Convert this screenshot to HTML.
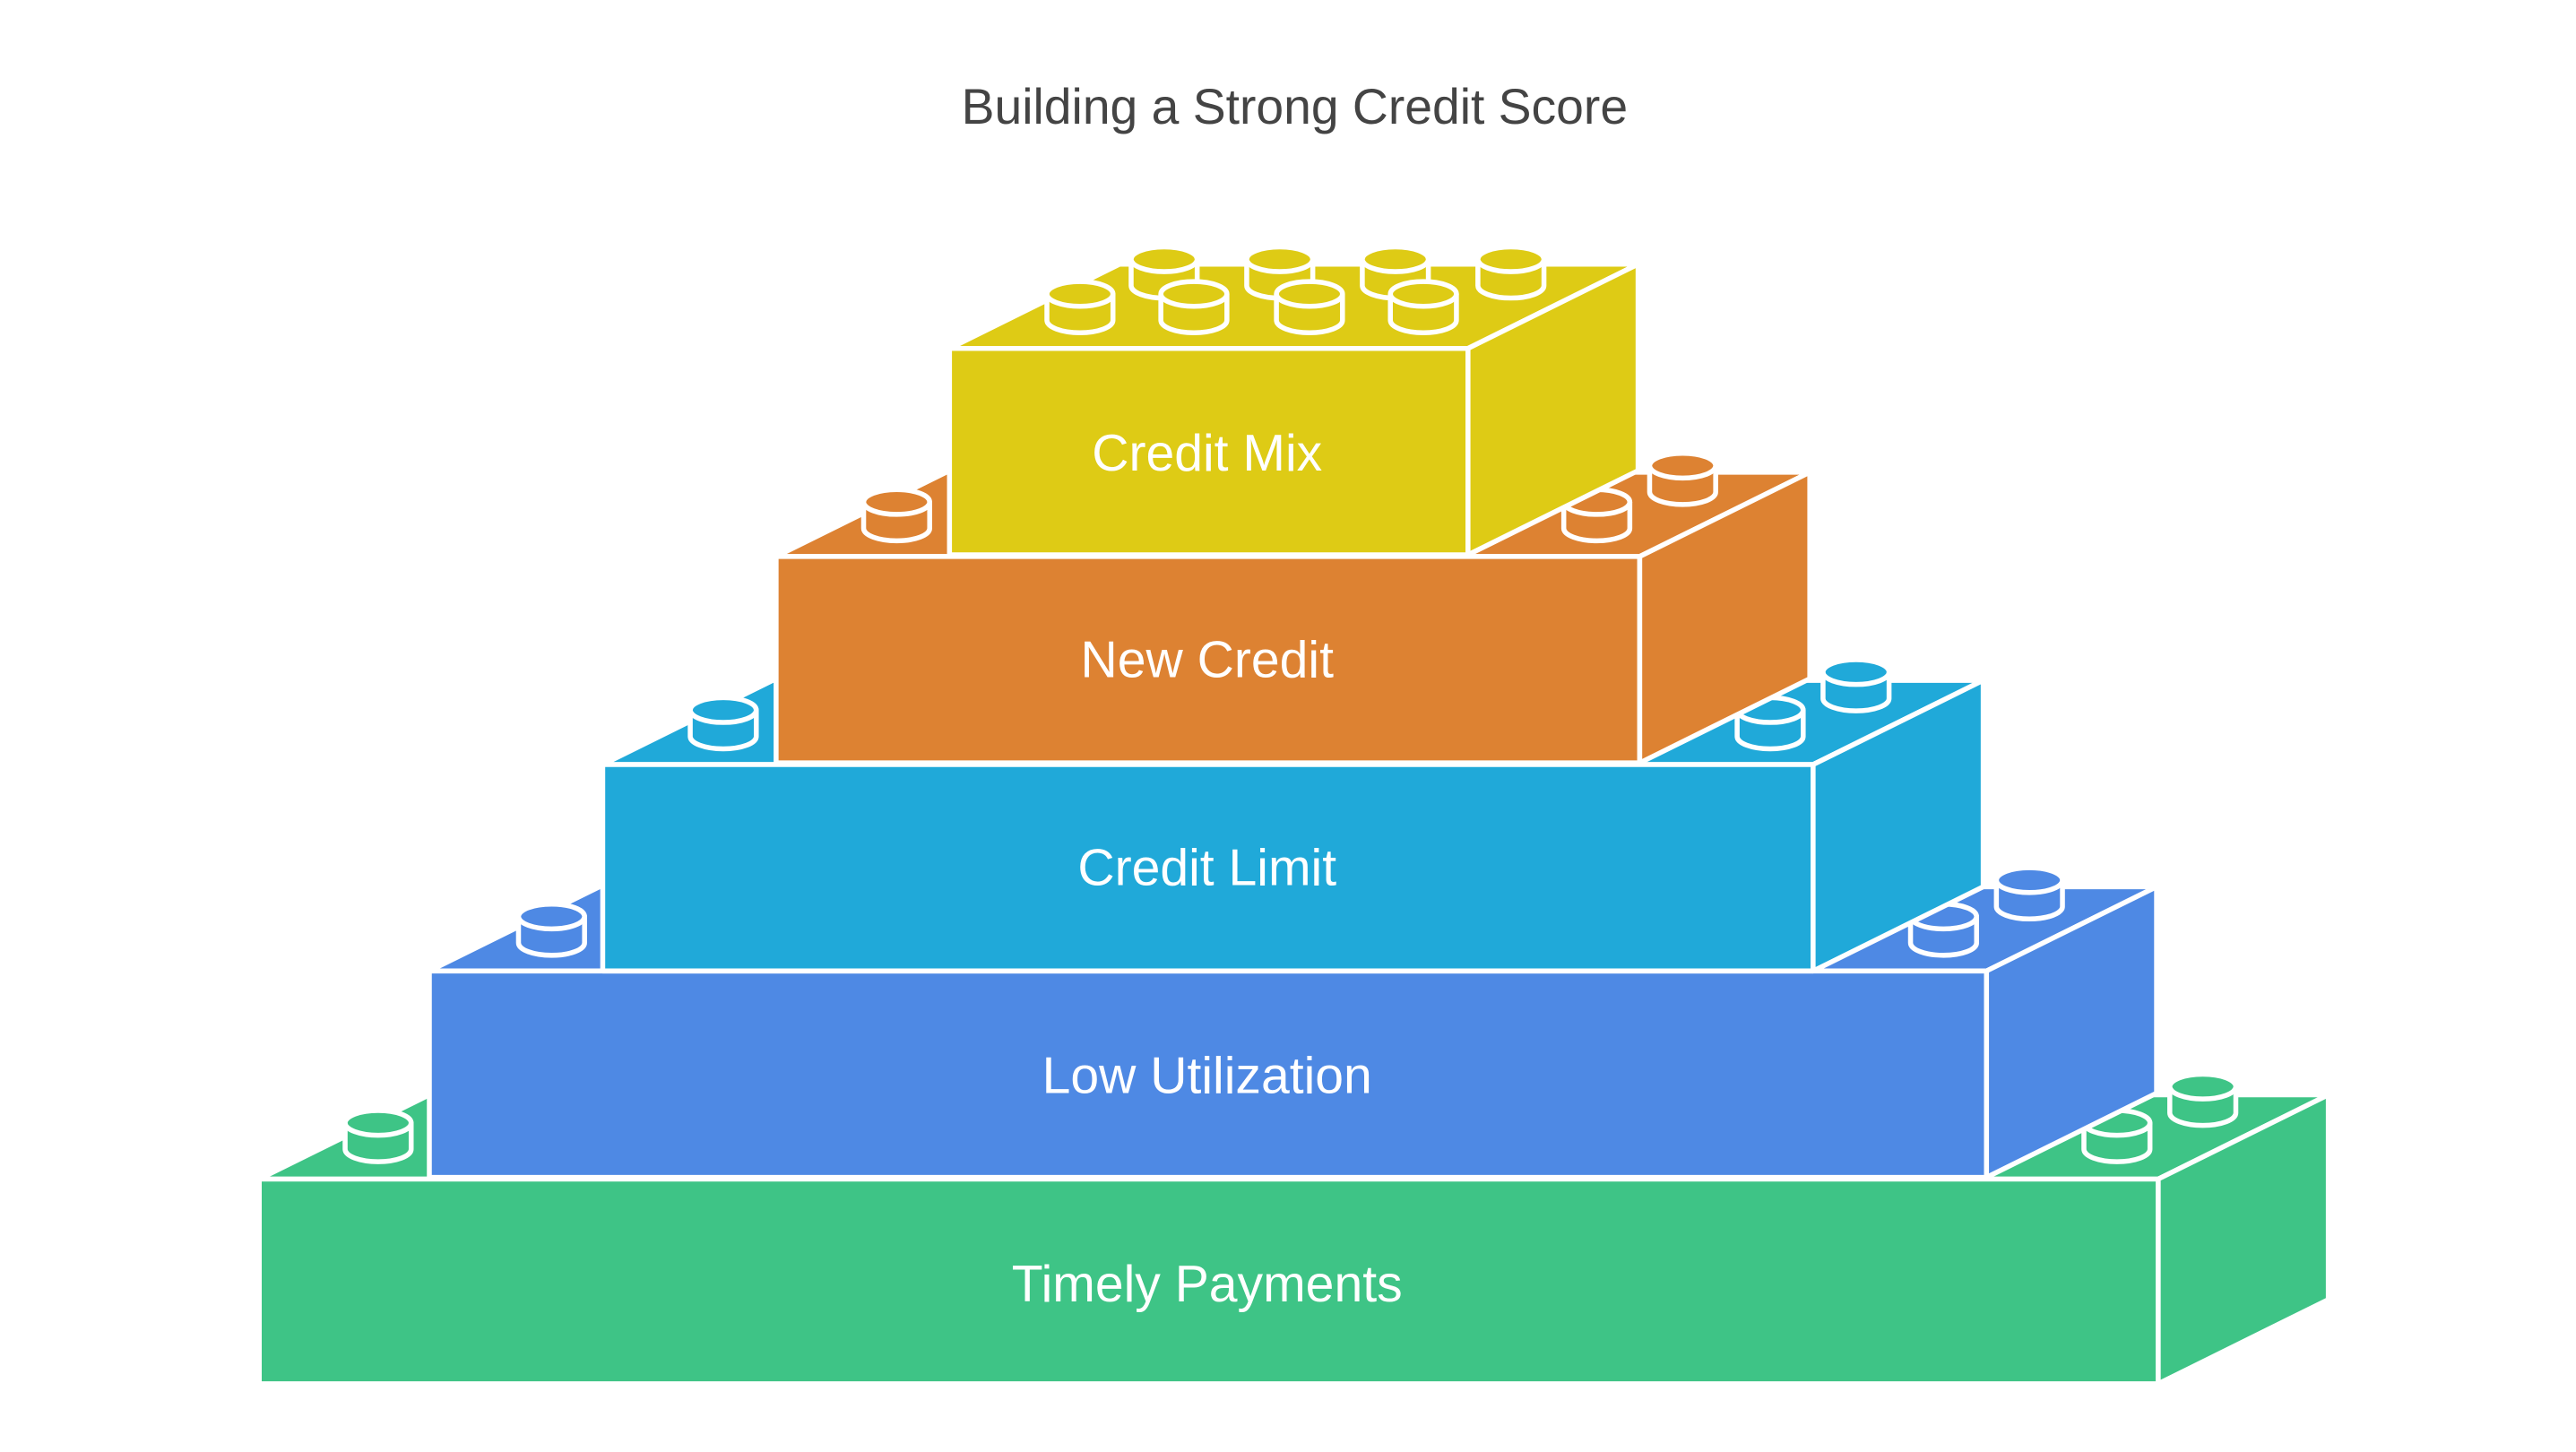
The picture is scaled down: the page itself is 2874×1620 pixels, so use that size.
<!DOCTYPE html>
<html><head><meta charset="utf-8"><style>
html,body{margin:0;padding:0;background:#fff;}
svg{display:block;}
text{font-family:"Liberation Sans",sans-serif;}
</style></head><body>
<svg width="2874" height="1620" viewBox="0 0 1560 879.3" preserveAspectRatio="none" xmlns="http://www.w3.org/2000/svg">
<defs>
<g id="cyl">
<path d="M-20,0 L-20,16 A20,7.5 0 0 0 20,16 L20,0 Z" stroke="#fff" stroke-width="3"/>
<ellipse cx="0" cy="0" rx="20" ry="7.5" stroke="#fff" stroke-width="3"/>
</g>
</defs>
<text x="784" y="75" text-anchor="middle" font-size="30" fill="#444">Building a Strong Credit Score</text>
<g stroke="#fff" stroke-width="3" stroke-linejoin="round">
<g fill="#3EC486">
<polygon points="157,714 260,663 1410,663 1307,714"/>
<use href="#cyl" x="229" y="680"/>
<use href="#cyl" x="1334" y="658"/>
<use href="#cyl" x="1282" y="680"/>
<rect x="157" y="714" width="1150" height="124"/>
<polygon points="1307,714 1410,663 1410,787 1307,838"/>
</g>
<g fill="#4E89E4">
<polygon points="260,588 363,537 1306,537 1203,588"/>
<use href="#cyl" x="334" y="555"/>
<use href="#cyl" x="1229" y="533"/>
<use href="#cyl" x="1177" y="555"/>
<rect x="260" y="588" width="943" height="125"/>
<polygon points="1203,588 1306,537 1306,662 1203,713"/>
</g>
<g fill="#20A9D9">
<polygon points="365,463 468,412 1201,412 1098,463"/>
<use href="#cyl" x="438" y="430"/>
<use href="#cyl" x="1124" y="407"/>
<use href="#cyl" x="1072" y="430"/>
<rect x="365" y="463" width="733" height="125"/>
<polygon points="1098,463 1201,412 1201,537 1098,588"/>
</g>
<g fill="#DD8232">
<polygon points="470,337 573,286 1096,286 993,337"/>
<use href="#cyl" x="543" y="304"/>
<use href="#cyl" x="1019" y="282"/>
<use href="#cyl" x="967" y="304"/>
<rect x="470" y="337" width="523" height="125"/>
<polygon points="993,337 1096,286 1096,411 993,462"/>
</g>
<g fill="#DECB15">
<polygon points="575,211 678,160 992,160 889,211"/>
<use href="#cyl" x="705" y="157"/>
<use href="#cyl" x="775" y="157"/>
<use href="#cyl" x="845" y="157"/>
<use href="#cyl" x="915" y="157"/>
<use href="#cyl" x="654" y="178"/>
<use href="#cyl" x="723" y="178"/>
<use href="#cyl" x="793" y="178"/>
<use href="#cyl" x="862" y="178"/>
<rect x="575" y="211" width="314" height="125"/>
<polygon points="889,211 992,160 992,285 889,336"/>
</g>
</g>
<g fill="#fff" font-size="31" text-anchor="middle">
<text x="731" y="285">Credit Mix</text>
<text x="731" y="410">New Credit</text>
<text x="731" y="536">Credit Limit</text>
<text x="731" y="662">Low Utilization</text>
<text x="731" y="788">Timely Payments</text>
</g>
</svg>
</body></html>
